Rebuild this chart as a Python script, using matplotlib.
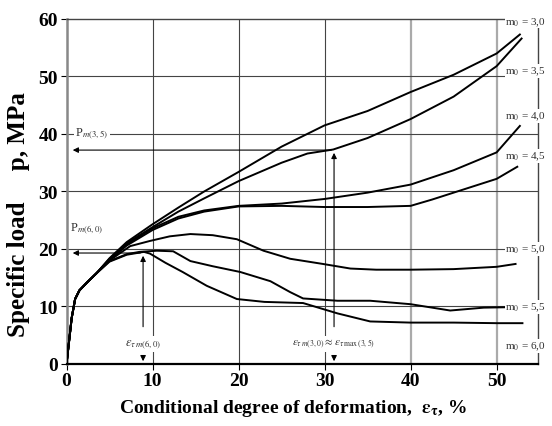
import numpy as np
import matplotlib.pyplot as plt

plt.rcParams['font.family'] = ['Liberation Serif', 'DejaVu Serif']
plt.rcParams['mathtext.fontset'] = 'stix'

# common initial part of all curves
start_x = [0, 0.3, 0.6, 1.0, 1.5, 2.4, 3.5]
start_p = [0, 4, 8, 11.3, 12.8, 14.2, 15.8]

# continuation of every curve (conditional deformation %, specific load MPa)
m30_x = [5, 7, 10, 13, 16, 20, 25, 30, 35, 40, 45, 50, 52.7]
m30_p = [18.4, 21.2, 24.3, 27.2, 30, 33.4, 37.8, 41.5, 44, 47.3, 50.3, 54, 57.3]
m35_x = [5, 7, 10, 13, 16, 20, 25, 28, 31, 35, 40, 45, 50, 52.9]
m35_p = [18.3, 21, 23.8, 26.5, 28.8, 31.8, 35, 36.6, 37.3, 39.3, 42.6, 46.5, 51.8, 56.6]
m40_x = [5, 7, 10, 13, 16, 20, 25, 30, 35, 40, 45, 50, 52.7]
m40_p = [18.2, 20.8, 23.6, 25.6, 26.7, 27.5, 27.9, 28.7, 29.8, 31.2, 33.7, 36.8, 41.4]
m45_x = [5, 7, 10, 13, 16, 20, 25, 30, 35, 40, 42.5, 45, 50, 52.4]
m45_p = [18.1, 20.6, 23.3, 25.3, 26.5, 27.4, 27.5, 27.3, 27.3, 27.5, 28.6, 29.8, 32.2, 34.3]
m50_x = [5, 7.4, 9.7, 12, 14.4, 17, 19.8, 22.9, 26, 29.8, 33, 36, 40, 45, 50, 52.2]
m50_p = [18, 20.5, 21.4, 22.2, 22.6, 22.4, 21.7, 19.7, 18.3, 17.4, 16.6, 16.4, 16.4, 16.5, 16.9, 17.4]
m55_x = [5, 7, 8.5, 10.5, 12.4, 14.4, 17, 20.2, 23.7, 26, 27.5, 31.5, 35.3, 40, 44.6, 48.5, 52.2]
m55_p = [17.9, 19.1, 19.5, 19.7, 19.6, 17.9, 17, 16, 14.4, 12.5, 11.4, 11, 11, 10.4, 9.3, 9.8, 9.9]
m60_x = [5, 7, 9, 9.7, 11.5, 13.5, 16.3, 19.8, 23, 27.5, 31.5, 35.3, 40, 45, 50, 53]
m60_p = [17.8, 19, 19.5, 19.2, 17.6, 16, 13.6, 11.3, 10.8, 10.6, 8.8, 7.4, 7.2, 7.2, 7.1, 7.1]

curves_x = [m30_x, m35_x, m40_x, m45_x, m50_x, m55_x, m60_x]
curves_p = [m30_p, m35_p, m40_p, m45_p, m50_p, m55_p, m60_p]

# labels on the right side
m_labels = ['3,0', '3,5', '4,0', '4,5', '5,0', '5,5', '6,0']
m_label_p = [59.6, 51, 43.1, 36.2, 20, 9.9, 3.1]

# characteristic points (maximum load)
peak_eps = [8.9, 31.1]
peak_p = [19.3, 37.2]

fig = plt.figure(figsize=(5.52, 4.27), dpi=100)
ax = fig.add_axes([0.1205, 0.1452, 0.854, 0.808])

for xs, ps in zip(curves_x, curves_p):
    ax.plot(start_x + xs, start_p + ps, color='black', lw=1.4, zorder=3,
            solid_joinstyle='round')

ax.set_xlim(0, 54.8)
ax.set_ylim(0, 60)
ax.set_xticks([0, 10, 20, 30, 40, 50])
ax.set_yticks([0, 10, 20, 30, 40, 50, 60])
ax.tick_params(labelsize=14, length=4, width=0.8, direction='out', pad=2)
for t in ax.get_xticklabels() + ax.get_yticklabels():
    t.set_fontweight('bold')

for v in [10, 20, 30]:
    ax.axvline(v, color='#444444', lw=0.8, zorder=1)
for v in [40, 50]:
    ax.axvline(v, color='#aaaaaa', lw=1.6, zorder=1)
for h in [10, 20, 30, 40, 50]:
    ax.axhline(h, color='#444444', lw=0.8, zorder=1)
for s in ax.spines.values():
    s.set_linewidth(1.0)
    s.set_color('#444444')
ax.spines['bottom'].set_color('black')
ax.spines['bottom'].set_linewidth(1.6)
ax.spines['left'].set_color('#888888')
ax.spines['left'].set_linewidth(1.8)

arrow = dict(arrowstyle='-|>', color='black', lw=0.8, mutation_scale=8)
for e, p in zip(peak_eps, peak_p):
    ax.annotate('', xy=(0.4, p), xytext=(e, p), arrowprops=arrow, zorder=4)
    ax.annotate('', xy=(e, p), xytext=(e, 6), arrowprops=arrow, zorder=4)
    ax.annotate('', xy=(e, 0), xytext=(e, 1.6), arrowprops=arrow, zorder=4)

box = dict(facecolor='white', edgecolor='none', pad=1.0)
ax.text(0.4, 23.8, r'P$_{m(6,0)}$', fontsize=9, color='#333333', ha='left', va='center', bbox=box, zorder=5)
ax.text(1.0, 40.3, r'P$_{m(3,5)}$', fontsize=9, color='#333333', ha='left', va='center', bbox=box, zorder=5)
ax.text(peak_eps[0], 3.5, r'$\varepsilon_{\tau\,m(6,0)}$', fontsize=9, color='#333333',
        ha='center', va='center', bbox=box, zorder=5)
ax.text(peak_eps[1], 3.5, r'$\varepsilon_{\tau\,m(3,0)}\approx\varepsilon_{\tau\,\max\,(3,5)}$', fontsize=8,
        color='#333333', ha='center', va='center', bbox=box, zorder=5)

for lab, p in zip(m_labels, m_label_p):
    ax.text(51.0, p, r'm$_0$ = ' + lab, fontsize=8, color='#333333', ha='left', va='center',
            bbox=dict(facecolor='white', edgecolor='none', pad=0.5), zorder=5, clip_on=False)

ax.text(0.48, -0.125, r'Conditional degree of deformation,  $\mathbf{\varepsilon_\tau}$, %',
        transform=ax.transAxes, fontsize=14, fontweight='bold', ha='center', va='center')
ax.text(-0.1025, 0.435, 'Specific load     p, MPa', transform=ax.transAxes, rotation=90,
        fontsize=18, fontweight='bold', ha='center', va='center')

fig.savefig('out.png', dpi=100)
